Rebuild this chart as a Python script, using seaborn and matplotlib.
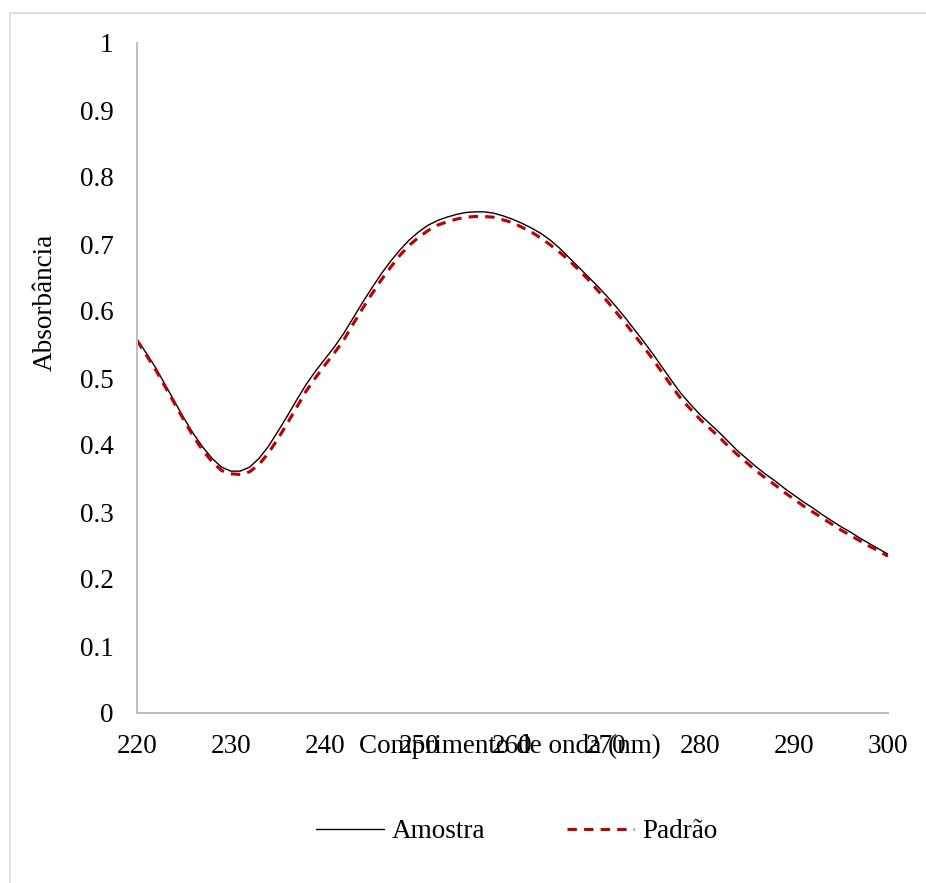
import numpy as np
import pandas as pd
import matplotlib
matplotlib.use("Agg")
import matplotlib.pyplot as plt
from matplotlib.patches import Rectangle
import seaborn as sns

# wavelength (nm) and absorbance
wavelength = list(range(220, 301))
amostra = [0.558, 0.537, 0.515, 0.490, 0.465, 0.440, 0.417, 0.397, 0.380, 0.367,
           0.361, 0.361, 0.367, 0.380, 0.398, 0.420, 0.443, 0.467, 0.490, 0.510,
           0.528, 0.546, 0.566, 0.589, 0.612, 0.634, 0.655, 0.674, 0.691, 0.706,
           0.718, 0.728, 0.735, 0.740, 0.744, 0.747, 0.748, 0.748, 0.746, 0.742,
           0.737, 0.731, 0.724, 0.716, 0.706, 0.694, 0.680, 0.666, 0.652, 0.638,
           0.623, 0.607, 0.590, 0.572, 0.554, 0.535, 0.515, 0.495, 0.476, 0.460,
           0.445, 0.432, 0.419, 0.405, 0.391, 0.379, 0.367, 0.356, 0.346, 0.335,
           0.325, 0.315, 0.306, 0.296, 0.287, 0.278, 0.270, 0.261, 0.253, 0.245,
           0.237]
padrao = [0.556, 0.534, 0.512, 0.487, 0.462, 0.437, 0.413, 0.392, 0.375, 0.362,
          0.357, 0.356, 0.360, 0.371, 0.388, 0.409, 0.432, 0.456, 0.480, 0.500,
          0.519, 0.537, 0.556, 0.580, 0.603, 0.625, 0.646, 0.665, 0.683, 0.698,
          0.710, 0.720, 0.728, 0.733, 0.737, 0.740, 0.741, 0.741, 0.740, 0.736,
          0.732, 0.725, 0.718, 0.709, 0.699, 0.688, 0.676, 0.662, 0.648, 0.632,
          0.616, 0.599, 0.582, 0.564, 0.546, 0.527, 0.507, 0.487, 0.468, 0.453,
          0.438, 0.425, 0.412, 0.398, 0.385, 0.373, 0.361, 0.350, 0.340, 0.329,
          0.319, 0.309, 0.300, 0.291, 0.282, 0.273, 0.265, 0.257, 0.249, 0.242,
          0.234]
x_ticks = [220, 230, 240, 250, 260, 270, 280, 290, 300]
y_ticks = [0, 0.1, 0.2, 0.3, 0.4, 0.5, 0.6, 0.7, 0.8, 0.9, 1]
y_tick_labels = ["0", "0.1", "0.2", "0.3", "0.4", "0.5", "0.6", "0.7", "0.8", "0.9", "1"]

df = pd.DataFrame({"wl": wavelength, "Amostra": amostra, "Padrão": padrao})

sns.set_style("white")
plt.rcParams["font.family"] = ["Liberation Serif", "DejaVu Serif"]
plt.rcParams["text.color"] = "black"
fs = 19.5

W, H = 926, 883
fig = plt.figure(figsize=(W / 100, H / 100), dpi=100)
ax = fig.add_axes([137 / W, 1 - 713 / H, (888 - 137) / W, (713 - 43) / H])

sns.lineplot(data=df, x="wl", y="Amostra", ax=ax, color="black", lw=1.0, label="Amostra")
sns.lineplot(data=df, x="wl", y="Padrão", ax=ax, color="#c00000", lw=2.25,
             linestyle=(0, (3.0, 2.3)), label="Padrão")

ax.set_xlim(220, 300)
ax.set_ylim(0, 1)
ax.set_xticks(x_ticks)
ax.set_yticks(y_ticks)
ax.set_yticklabels(y_tick_labels)
ax.tick_params(axis="both", length=0, labelsize=fs, colors="black")
ax.tick_params(axis="x", pad=15)
ax.tick_params(axis="y", pad=17)
ax.set_xlabel("")
ax.set_ylabel("")

for side in ["top", "right"]:
    ax.spines[side].set_visible(False)
for side in ["left", "bottom"]:
    ax.spines[side].set_color("#bfbfbf")
    ax.spines[side].set_linewidth(1.5)

# axis titles (overlapping the tick labels as in the original)
fig.text(510 / W, 1 - 746 / H, "Comprimento de onda (nm)", ha="center", va="center",
         fontsize=fs, color="black")
fig.text(45 / W, 1 - 302 / H, "Absorbância", ha="center", va="center", rotation=90,
         fontsize=fs, color="black")

leg = ax.legend(loc="center", bbox_to_anchor=(517 / W, 1 - 832 / H), bbox_transform=fig.transFigure,
                ncol=2, frameon=False, fontsize=fs, handlelength=2.5, columnspacing=3.0,
                handletextpad=0.3)
for t in leg.get_texts():
    t.set_color("black")

# chart border
fig.patches.append(Rectangle((9.5 / W, -0.1), 1.2, (H - 13.5) / H + 0.1, transform=fig.transFigure,
                             fill=False, edgecolor="#d9d9d9", lw=1.2))

fig.savefig("out.png", dpi=100)
